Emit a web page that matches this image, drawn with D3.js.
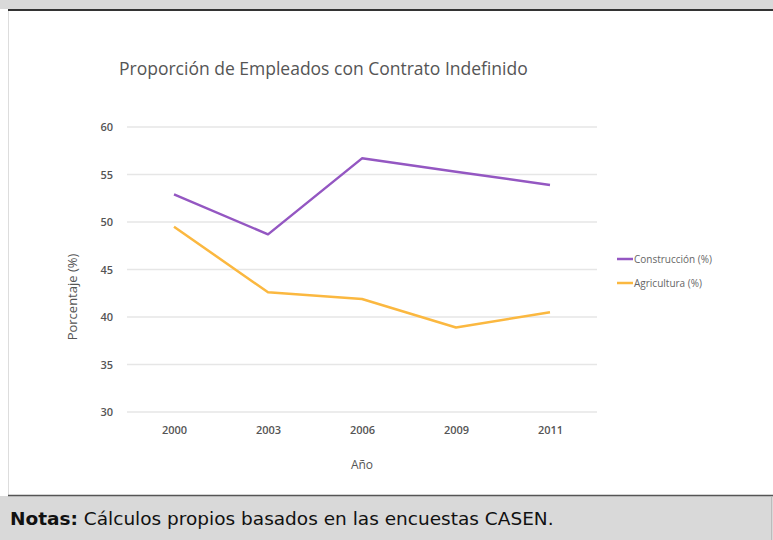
<!DOCTYPE html>
<html>
<head>
<meta charset="utf-8">
<script src="https://cdn.jsdelivr.net/npm/d3@7"></script>
<style>
  body { margin: 0; background: #fff; }
  svg { display: block; }
</style>
</head>
<body>
<div id="chart"></div>
<script>
// Data
const years = ["2000", "2003", "2006", "2009", "2011"];
const construccion = [52.9, 48.7, 56.7, 55.3, 53.9];
const agricultura = [49.5, 42.6, 41.9, 38.9, 40.5];
const yTicks = [30, 35, 40, 45, 50, 55, 60];
const seriesNames = ["Construcción (%)", "Agricultura (%)"];
const seriesColors = ["#9457c2", "#fbb840"];

const W = 773, H = 540;
const svg = d3.select("#chart").append("svg")
    .attr("width", W)
    .attr("height", H);

// --- page frame: top band, bottom notes band ---
svg.append("rect").attr("x", 0).attr("y", 0).attr("width", W).attr("height", 9).attr("fill", "#d9d9d9");
svg.append("line").attr("x1", 8).attr("x2", W).attr("y1", 10).attr("y2", 10)
    .attr("stroke", "#333").attr("stroke-width", 2);
svg.append("line").attr("x1", 8.5).attr("x2", 8.5).attr("y1", 11).attr("y2", 495)
    .attr("stroke", "#ddd").attr("stroke-width", 1);
svg.append("rect").attr("x", 0).attr("y", 496).attr("width", W).attr("height", H - 496).attr("fill", "#d9d9d9");
svg.append("line").attr("x1", 8).attr("x2", W).attr("y1", 495.5).attr("y2", 495.5)
    .attr("stroke", "#555").attr("stroke-width", 1.5);
svg.append("line").attr("x1", 771.5).attr("x2", 771.5).attr("y1", 496).attr("y2", H)
    .attr("stroke", "#bbb").attr("stroke-width", 1);

const notes = svg.append("text")
    .attr("x", 10).attr("y", 525)
    .attr("fill", "#111")
    .style("font-family", "'DejaVu Sans', sans-serif")
    .style("font-size", "18.5px");
notes.append("tspan").style("font-weight", "bold").text("Notas:");
notes.append("tspan").text(" Cálculos propios basados en las encuestas CASEN.");

// --- chart area ---
const margin = { top: 127, left: 127 };
const innerW = 470, innerH = 285;
const g = svg.append("g").attr("transform", `translate(${margin.left},${margin.top})`);

const x = d3.scalePoint().domain(years).range([0, innerW]).padding(0.5);
const y = d3.scaleLinear().domain([30, 60]).range([innerH, 0]);

const font = "'Open Sans', sans-serif";

// gridlines
g.selectAll(".grid").data(yTicks).join("line")
    .attr("x1", 0).attr("x2", innerW)
    .attr("y1", d => y(d)).attr("y2", d => y(d))
    .attr("stroke", "#e6e6e6").attr("stroke-width", 1.5);

// y axis labels
const yAxis = g.append("g").call(d3.axisLeft(y).tickValues(yTicks).tickSize(0).tickPadding(14));
yAxis.select(".domain").remove();
yAxis.selectAll("text").attr("fill", "#555").style("font-family", font)
    .style("font-size", "11px").style("font-weight", "600");

// x axis labels
const xAxis = g.append("g").attr("transform", `translate(0,${innerH})`)
    .call(d3.axisBottom(x).tickSize(0).tickPadding(14));
xAxis.select(".domain").remove();
xAxis.selectAll("text").attr("fill", "#555").style("font-family", font)
    .style("font-size", "11px").style("font-weight", "600");

// axis titles
svg.append("text")
    .attr("x", 362).attr("y", 469)
    .attr("text-anchor", "middle")
    .attr("fill", "#555")
    .style("font-family", font).style("font-size", "12px")
    .text("Año");

svg.append("text")
    .attr("transform", "translate(77,297) rotate(-90)")
    .attr("text-anchor", "middle")
    .attr("fill", "#555")
    .style("font-family", font).style("font-size", "13px")
    .text("Porcentaje (%)");

// title
svg.append("text")
    .attr("x", 119).attr("y", 75)
    .attr("fill", "#555")
    .style("font-family", font).style("font-size", "17.5px")
    .text("Proporción de Empleados con Contrato Indefinido");

// lines
const line = d3.line().x((d, i) => x(years[i])).y(d => y(d));
[construccion, agricultura].forEach((vals, i) => {
    g.append("path")
        .datum(vals)
        .attr("d", line)
        .attr("fill", "none")
        .attr("stroke", seriesColors[i])
        .attr("stroke-width", 2.5)
        .attr("stroke-linejoin", "round");
});

// legend
const legend = svg.append("g").attr("transform", "translate(617,259)");
seriesNames.forEach((name, i) => {
    const row = legend.append("g").attr("transform", `translate(0,${i * 24})`);
    row.append("line").attr("x1", 0).attr("x2", 16).attr("y1", 0).attr("y2", 0)
        .attr("stroke", seriesColors[i]).attr("stroke-width", 2.5);
    row.append("text").attr("x", 17).attr("y", 3.5)
        .attr("fill", "#666")
        .style("font-family", font).style("font-size", "10px")
        .text(name);
});
</script>
</body>
</html>
